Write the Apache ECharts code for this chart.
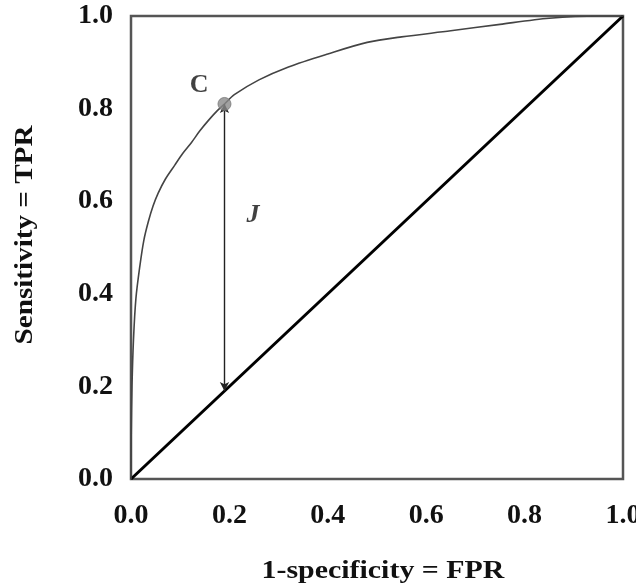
<!DOCTYPE html>
<html>
<head>
<meta charset="utf-8">
<script src="https://cdn.jsdelivr.net/npm/echarts@6/dist/echarts.min.js"></script>
<style>
  html, body { margin: 0; padding: 0; background: #fff; }
  #chart { width: 636px; height: 588px; }
</style>
</head>
<body>
<div id="chart"></div>
<script>
// ROC curve: false positive rate vs. true positive rate
const rocFpr = [0, 0.0005, 0.002, 0.005, 0.010, 0.018, 0.026, 0.035, 0.045, 0.055, 0.07, 0.089, 0.105, 0.123, 0.14, 0.157, 0.175, 0.19, 0.21, 0.26, 0.32, 0.40, 0.48, 0.55, 0.65, 0.75, 0.85, 0.95, 1.0];
const rocTpr = [0, 0.10, 0.20, 0.30, 0.39, 0.46, 0.515, 0.555, 0.59, 0.617, 0.648, 0.678, 0.703, 0.727, 0.752, 0.774, 0.795, 0.81, 0.83, 0.862, 0.89, 0.918, 0.943, 0.955, 0.968, 0.982, 0.995, 1.0, 1.0];

// chance line
const chanceFpr = [0, 1];
const chanceTpr = [0, 1];

// optimal cut-off C and Youden index J
const cutoff = { name: 'C', fpr: 0.19, tpr: 0.81 };
const youdenLabel = { name: 'J', fpr: 0.248, tpr: 0.57 };

const axisTicks = ['0.0', '0.2', '0.4', '0.6', '0.8', '1.0'];
const xTitle = '1-specificity = FPR';
const yTitle = 'Sensitivity = TPR';

const serif = '"Liberation Serif", "DejaVu Serif", serif';

const chart = echarts.init(document.getElementById('chart'), null, { renderer: 'canvas' });

chart.setOption({
  animation: false,
  backgroundColor: '#fff',
  grid: {
    left: 131, right: 13, top: 16, bottom: 109,
    outerBoundsMode: 'none', containLabel: false,
    show: true, borderColor: '#555', borderWidth: 2.5, backgroundColor: 'transparent'
  },
  xAxis: {
    type: 'value', min: 0, max: 1, interval: 0.2,
    axisLine: { show: false }, axisTick: { show: false }, splitLine: { show: false },
    axisLabel: { margin: 23, fontFamily: serif, fontWeight: 'bold', fontSize: 28, color: '#111',
      formatter: v => axisTicks[Math.round(v / 0.2)] }
  },
  yAxis: {
    type: 'value', min: 0, max: 1, interval: 0.2,
    axisLine: { show: false }, axisTick: { show: false }, splitLine: { show: false },
    axisLabel: { margin: 18, fontFamily: serif, fontWeight: 'bold', fontSize: 28, color: '#111',
      formatter: v => axisTicks[Math.round(v / 0.2)] }
  },
  graphic: [
    {
      type: 'text', x: 383, y: 571, scaleX: 1.15,
      style: { text: xTitle, font: 'bold 26px ' + serif, fill: '#111', align: 'center', verticalAlign: 'middle' }
    },
    {
      type: 'text', x: 25, y: 235, rotation: Math.PI / 2, scaleX: 1.12,
      style: { text: yTitle, font: 'bold 26px ' + serif, fill: '#111', align: 'center', verticalAlign: 'middle' }
    }
  ],
  series: [
    {
      type: 'line', data: chanceFpr.map((x, i) => [x, chanceTpr[i]]),
      symbol: 'none', lineStyle: { color: '#000', width: 3 }, z: 2
    },
    {
      type: 'line', data: rocFpr.map((x, i) => [x, rocTpr[i]]),
      symbol: 'none', smooth: 0.3, lineStyle: { color: '#444', width: 1.6 }, z: 3,
      markLine: {
        silent: true, symbol: ['arrow', 'arrow'], symbolSize: [7, 9],
        lineStyle: { color: '#222', width: 1.4, type: 'solid' }, label: { show: false },
        data: [[{ coord: [cutoff.fpr, cutoff.tpr] }, { coord: [cutoff.fpr, cutoff.fpr] }]]
      }
    },
    {
      type: 'scatter', data: [[cutoff.fpr, cutoff.tpr]], symbolSize: 13, z: 5,
      itemStyle: { color: '#8a8a8a', borderColor: '#777', borderWidth: 1 },
      label: { show: true, formatter: cutoff.name, position: 'left', offset: [-4, -19],
        fontFamily: serif, fontWeight: 'bold', fontSize: 26, color: '#111' }
    },
    {
      type: 'scatter', data: [[youdenLabel.fpr, youdenLabel.tpr]], symbolSize: 0, z: 5,
      label: { show: true, formatter: youdenLabel.name, position: 'inside',
        fontFamily: serif, fontWeight: 'bold', fontStyle: 'italic', fontSize: 26, color: '#111' }
    }
  ]
});
</script>
</body>
</html>
